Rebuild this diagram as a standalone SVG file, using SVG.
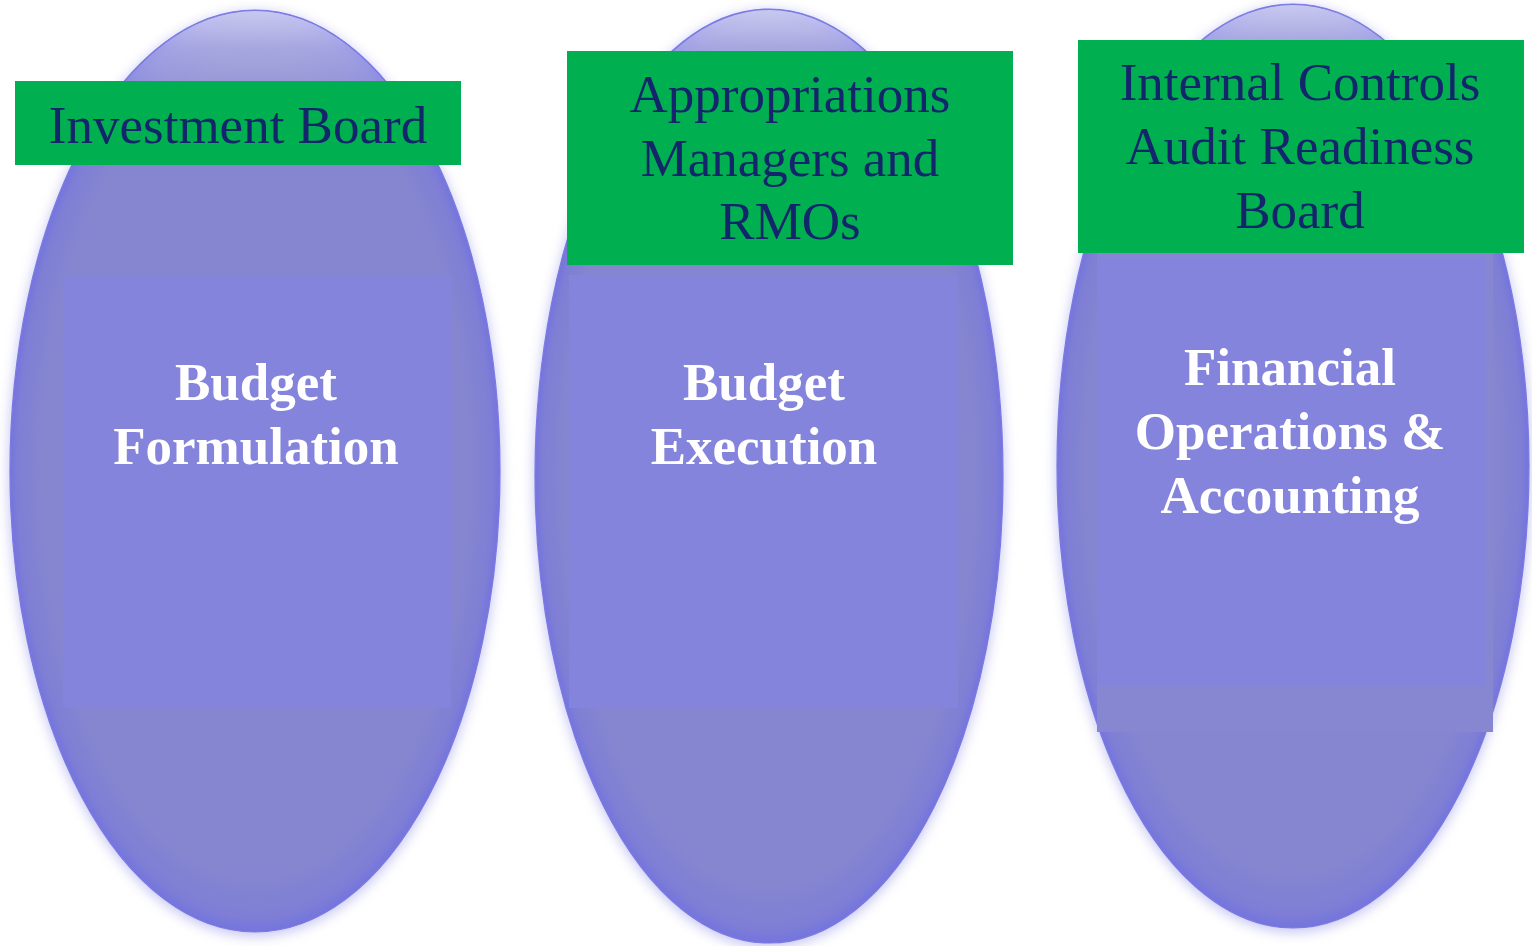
<svg xmlns="http://www.w3.org/2000/svg" width="1532" height="946" viewBox="0 0 1532 946">
  <defs>
    <radialGradient id="ovalFill" cx="0.5" cy="0.5" r="0.5">
      <stop offset="0" stop-color="#8888d0"/>
      <stop offset="0.88" stop-color="#8585d0"/>
      <stop offset="0.97" stop-color="#7e7ed6"/>
      <stop offset="1" stop-color="#7474de"/>
    </radialGradient>
    <linearGradient id="topShine" x1="0" y1="0" x2="0" y2="1">
      <stop offset="0" stop-color="#ffffff" stop-opacity="0.6"/>
      <stop offset="0.04" stop-color="#ffffff" stop-opacity="0.3"/>
      <stop offset="0.12" stop-color="#ffffff" stop-opacity="0"/>
      <stop offset="1" stop-color="#ffffff" stop-opacity="0"/>
    </linearGradient>
    <filter id="glow" x="-10%" y="-10%" width="120%" height="120%">
      <feGaussianBlur stdDeviation="6"/>
    </filter>
    <style>
      .halo { fill: #cacaf4; filter: url(#glow); }
      .oval { fill: url(#ovalFill); stroke: #7a7ae2; stroke-width: 1.2; }
      .shine { fill: url(#topShine); }
      .inner { fill: #8484dd; }
      .innerBack { fill: #8686d1; }
      .tag { fill: #00b050; }
      .tagText { font-family: "Liberation Serif", "Times New Roman", serif; font-size: 53px; fill: #13266b; text-anchor: middle; }
      .mainText { font-family: "Liberation Serif", "Times New Roman", serif; font-size: 53px; font-weight: bold; fill: #ffffff; text-anchor: middle; }
    </style>
  </defs>

  <g id="node-budget-formulation">
    <ellipse class="halo" cx="255" cy="474" rx="247" ry="463"/>
    <ellipse class="oval" cx="255" cy="471" rx="245" ry="461"/>
    <ellipse class="shine" cx="255" cy="471" rx="244" ry="460"/>
    <rect class="inner" x="63" y="275" width="388" height="433"/>
    <text class="mainText" x="256" y="400">Budget</text>
    <text class="mainText" x="256" y="464">Formulation</text>
  </g>

  <g id="node-budget-execution">
    <ellipse class="halo" cx="769" cy="479" rx="236" ry="469"/>
    <ellipse class="oval" cx="769" cy="476" rx="234" ry="467"/>
    <ellipse class="shine" cx="769" cy="476" rx="233" ry="466"/>
    <rect class="inner" x="569" y="275" width="389" height="433"/>
    <text class="mainText" x="764" y="400">Budget</text>
    <text class="mainText" x="764" y="464">Execution</text>
  </g>

  <g id="node-financial-operations">
    <ellipse class="halo" cx="1293" cy="469" rx="238" ry="464"/>
    <ellipse class="oval" cx="1293" cy="466" rx="236" ry="462"/>
    <ellipse class="shine" cx="1293" cy="466" rx="235" ry="461"/>
    <rect class="innerBack" x="1097" y="252" width="396" height="480"/>
    <rect class="inner" x="1097" y="258" width="388" height="427"/>
    <text class="mainText" x="1290" y="385">Financial</text>
    <text class="mainText" x="1290" y="449">Operations &amp;</text>
    <text class="mainText" x="1290" y="513">Accounting</text>
  </g>

  <g id="node-investment-board">
    <rect class="tag" x="15" y="81" width="446" height="84"/>
    <text class="tagText" x="238" y="143">Investment Board</text>
  </g>

  <g id="node-appropriations-managers">
    <rect class="tag" x="567" y="51" width="446" height="214"/>
    <text class="tagText" x="790" y="112">Appropriations</text>
    <text class="tagText" x="790" y="176">Managers and</text>
    <text class="tagText" x="790" y="239">RMOs</text>
  </g>

  <g id="node-internal-controls">
    <rect class="tag" x="1078" y="40" width="446" height="213"/>
    <text class="tagText" x="1300" y="100">Internal Controls</text>
    <text class="tagText" x="1300" y="164">Audit Readiness</text>
    <text class="tagText" x="1300" y="228">Board</text>
  </g>

  <g id="connectors"/>
</svg>
